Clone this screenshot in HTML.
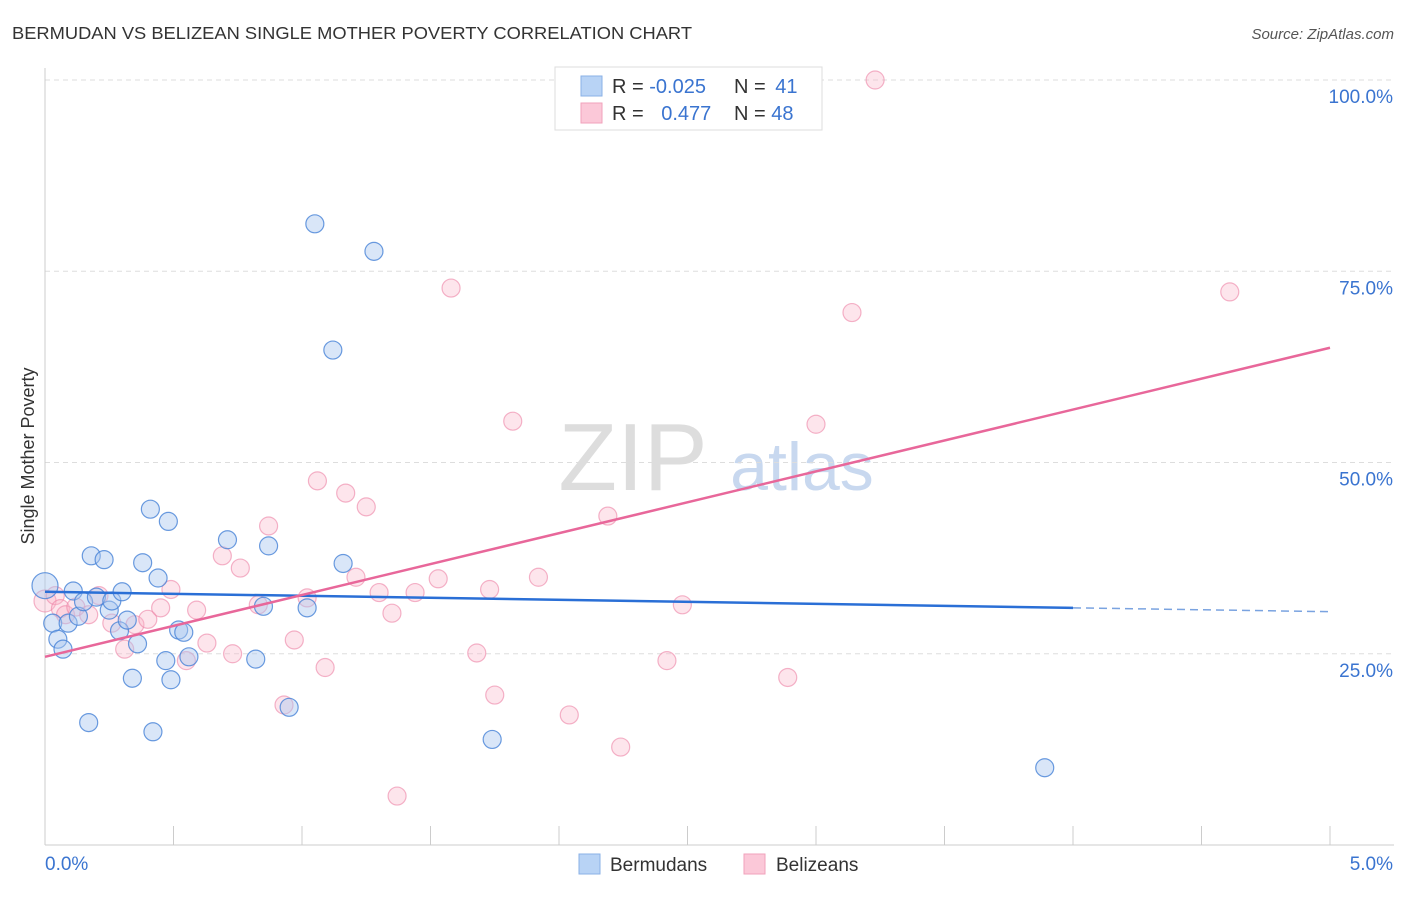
<!DOCTYPE html>
<html><head><meta charset="utf-8"><style>
body{margin:0;background:#fff;font-family:"Liberation Sans",sans-serif}
svg text{font-family:"Liberation Sans",sans-serif}
</style></head><body>
<svg id="chart" width="1406" height="892">
<text x="12" y="39" font-size="17.5" fill="#333" textLength="680" lengthAdjust="spacingAndGlyphs">BERMUDAN VS BELIZEAN SINGLE MOTHER POVERTY CORRELATION CHART</text>
<text x="1394" y="39" font-size="15" fill="#555" font-style="italic" text-anchor="end">Source: ZipAtlas.com</text>
<text x="34" y="456" font-size="18" fill="#333" text-anchor="middle" transform="rotate(-90 34 456)">Single Mother Poverty</text>
<g><text x="633" y="490" font-size="96" fill="#ddd" font-family="Liberation Serif" text-anchor="middle">ZIP</text><text x="802" y="490" font-size="68" fill="#c8d8ef" text-anchor="middle">atlas</text></g>
<g id="grid"></g><g id="axes"></g><g id="points"></g><g id="lines"></g>
<g>
<rect x="555" y="67" width="267" height="63" fill="#fff" stroke="#ddd"/>
<rect x="581" y="76" width="21" height="20" fill="#b8d3f5" stroke="#8ab0e6"/>
<rect x="581" y="103" width="21" height="20" fill="#fbc8d8" stroke="#f0a2bb"/>
<text x="612" y="93" font-size="20" fill="#333">R = <tspan fill="#3a74d0">-0.025</tspan></text>
<text x="734" y="93" font-size="20" fill="#333">N = <tspan fill="#3a74d0" dx="4">41</tspan></text>
<text x="612" y="120" font-size="20" fill="#333">R = <tspan fill="#3a74d0" dx="12">0.477</tspan></text>
<text x="734" y="120" font-size="20" fill="#333">N = <tspan fill="#3a74d0">48</tspan></text>
</g>
<g>
<rect x="579" y="854" width="21" height="20" fill="#b8d3f5" stroke="#8ab0e6"/>
<text x="610" y="871" font-size="19" fill="#333">Bermudans</text>
<rect x="744" y="854" width="21" height="20" fill="#fbc8d8" stroke="#f0a2bb"/>
<text x="776" y="871" font-size="19" fill="#333">Belizeans</text>
</g>
</svg>
<script>
const blueX=[0,0.03,0.05,0.07,0.09,0.11,0.13,0.15,0.17,0.18,0.2,0.23,0.25,0.26,0.29,0.3,0.32,0.34,0.36,0.38,0.42,0.44,0.41,0.47,0.48,0.49,0.52,0.54,0.56,0.71,0.82,0.85,0.87,0.95,1.02,1.05,1.12,1.16,1.28,1.74,3.89];
const blueY=[33.9,29.0,26.9,25.6,29.0,33.2,29.9,31.8,16.0,37.8,32.4,37.3,30.7,31.9,28.0,33.1,29.4,21.8,26.3,36.9,14.8,34.9,43.9,24.1,42.3,21.6,28.1,27.8,24.6,39.9,24.3,31.2,39.1,18.0,31.0,81.2,64.7,36.8,77.6,13.8,10.1];
const pinkX=[0,0.04,0.06,0.08,0.12,0.17,0.21,0.26,0.31,0.35,0.4,0.45,0.49,0.55,0.59,0.63,0.69,0.73,0.76,0.83,0.87,0.93,0.97,1.02,1.06,1.09,1.17,1.21,1.25,1.30,1.35,1.37,1.44,1.53,1.58,1.68,1.73,1.75,1.82,1.92,2.04,2.19,2.24,2.42,2.48,2.89,3.0,3.14,3.23,4.61];
const pinkY=[31.9,32.6,30.9,30.1,31.1,30.1,32.6,29.0,25.6,28.8,29.5,31.0,33.4,24.1,30.7,26.4,37.8,25.0,36.2,31.4,41.7,18.3,26.8,32.3,47.6,23.2,46.0,35.0,44.2,33.0,30.3,6.4,33.0,34.8,72.8,25.1,33.4,19.6,55.4,35.0,17.0,43.0,12.8,24.1,31.4,21.9,55.0,69.6,100,72.3];
const yTicks=[25,50,75,100];
const xLabels=["0.0%","5.0%"];
const X=v=>45+v*257, Y=v=>845-v*7.65;
const NS="http://www.w3.org/2000/svg";
function mk(tag,attrs,parent){const e=document.createElementNS(NS,tag);for(const k in attrs)e.setAttribute(k,attrs[k]);document.getElementById(parent).appendChild(e);return e;}
yTicks.forEach(t=>{
 const l=mk('line',{x1:45,x2:1394,y1:Y(t),y2:Y(t),stroke:'#ddd','stroke-dasharray':'5,4'},'grid');
 
 
 const tx=mk('text',{x:1393,y:Y(t)+23,'font-size':19,fill:'#3a74d0','text-anchor':'end'},'grid');
 tx.textContent=t.toFixed(1)+'%';
 
 
});
const ax=mk('line',{x1:45,x2:1394,y1:845,y2:845,stroke:'#ccc'},'axes');


const ay=mk('line',{x1:45,x2:45,y1:68,y2:845,stroke:'#ccc'},'axes');


for(let i=0;i<=10;i++){const t=mk('line',{x1:X(i*0.5),x2:X(i*0.5),y1:826,y2:845,stroke:'#ccc'},'axes');
 
 }
xLabels.forEach((s,i)=>{const t=mk('text',{x:i?1393:45,y:870,'font-size':19,fill:'#3a74d0','text-anchor':i?'end':'start'},'axes');t.textContent=s;
 
 });
pinkX.forEach((v,i)=>{const c=mk('circle',{cx:X(v),cy:Y(pinkY[i]),r:i==0?11:9,fill:'rgba(248,180,200,0.35)',stroke:'rgba(236,130,165,0.6)','stroke-width':1.2},'points');
 
 });
blueX.forEach((v,i)=>{const c=mk('circle',{cx:X(v),cy:Y(blueY[i]),r:i==0?13:9,fill:'rgba(170,200,240,0.45)',stroke:'rgba(70,130,215,0.8)','stroke-width':1.2},'points');
 
 });
const bl=mk('line',{x1:X(0),y1:Y(33.1),x2:X(4),y2:Y(31.0),stroke:'#2a6fd6','stroke-width':2.5},'lines');


const bd=mk('line',{x1:X(4),y1:Y(31.0),x2:X(5),y2:Y(30.5),stroke:'#7aa3e0','stroke-width':1.5,'stroke-dasharray':'8,5'},'lines');


const pl=mk('line',{x1:X(0),y1:Y(24.6),x2:X(5),y2:Y(65.0),stroke:'#e8679a','stroke-width':2.5},'lines');


</script>
</body></html>
